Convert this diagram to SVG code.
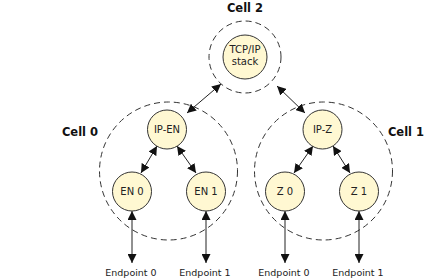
<svg xmlns="http://www.w3.org/2000/svg" width="425" height="279" viewBox="0 0 425 279">
<style>
.cell{fill:none;stroke:#333;stroke-width:1;stroke-dasharray:6,4}
.node{fill:#FFF8D2;stroke:#333;stroke-width:1}
.t{font-family:"DejaVu Sans",Verdana,sans-serif;font-size:10px;fill:#222;text-anchor:middle}
.e{font-family:"DejaVu Sans",Verdana,sans-serif;font-size:9.5px;fill:#222;text-anchor:middle}
.lbl{font-family:"DejaVu Sans",Verdana,sans-serif;font-size:11.5px;font-weight:bold;fill:#111;text-anchor:middle}
.c{stroke:#222;stroke-width:1;fill:none;marker-start:url(#a);marker-end:url(#a)}
</style>
<defs>
<marker id="a" viewBox="0 0 10 10" refX="10" refY="5" markerWidth="9" markerHeight="9" markerUnits="userSpaceOnUse" orient="auto-start-reverse">
<path d="M0,0 L10,5 L0,10 z" fill="#111"/>
</marker>
</defs>
<g id="cells">
<circle class="cell" cx="245" cy="57" r="36"/>
<circle class="cell" cx="168.5" cy="171" r="69"/>
<circle class="cell" cx="323.5" cy="171" r="69"/>
</g>
<text class="lbl" x="245" y="12">Cell 2</text>
<text class="lbl" x="80" y="136">Cell 0</text>
<text class="lbl" x="406" y="136">Cell 1</text>
<g id="connectors">
<line class="c" x1="221" y1="84" x2="187" y2="113"/>
<line class="c" x1="277" y1="86" x2="305" y2="113"/>
<line class="c" x1="157" y1="146" x2="141" y2="173"/>
<line class="c" x1="177" y1="146" x2="196" y2="173"/>
<line class="c" x1="313" y1="146" x2="294" y2="173"/>
<line class="c" x1="333" y1="146" x2="350" y2="173"/>
<line class="c" x1="132" y1="211" x2="132" y2="263"/>
<line class="c" x1="206" y1="211" x2="206" y2="263"/>
<line class="c" x1="285" y1="211" x2="285" y2="263"/>
<line class="c" x1="359" y1="211" x2="359" y2="263"/>
</g>
<g id="tcpip"><circle class="node" cx="245" cy="57" r="22"/><text class="t" x="245" y="53">TCP/IP</text><text class="t" x="245" y="65">stack</text></g>
<g id="ipen"><circle class="node" cx="167" cy="129.5" r="19.5"/><text class="t" x="167" y="133">IP-EN</text></g>
<g id="ipz"><circle class="node" cx="322.5" cy="129.5" r="19.5"/><text class="t" x="322.5" y="133">IP-Z</text></g>
<g id="en0"><circle class="node" cx="132" cy="191.5" r="19.5"/><text class="t" x="132" y="195">EN 0</text></g>
<g id="en1"><circle class="node" cx="206" cy="191.5" r="19.5"/><text class="t" x="206" y="195">EN 1</text></g>
<g id="z0"><circle class="node" cx="285" cy="191.5" r="19.5"/><text class="t" x="285" y="195">Z 0</text></g>
<g id="z1"><circle class="node" cx="359" cy="191.5" r="19.5"/><text class="t" x="359" y="195">Z 1</text></g>
<g id="endpoints">
<text class="e" x="131" y="276">Endpoint 0</text>
<text class="e" x="205" y="276">Endpoint 1</text>
<text class="e" x="284" y="276">Endpoint 0</text>
<text class="e" x="358" y="276">Endpoint 1</text>
</g>
</svg>
